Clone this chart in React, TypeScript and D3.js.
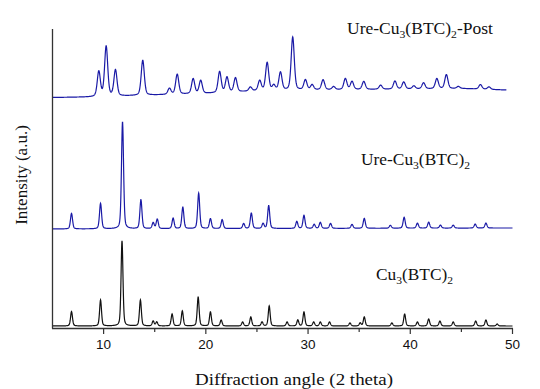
import React from "react";
import * as d3 from "d3";

// Peak lists: [2θ position, height (a.u.)]
const cuBTCPeaks: [number, number][] = [
  [6.86, 14.5], [9.7, 26], [11.8, 85], [13.6, 26], [14.85, 5], [15.2, 4], [16.7, 12],
  [17.7, 15], [19.25, 29], [20.45, 14], [21.5, 6], [23.6, 4], [24.4, 9], [25.5, 4],
  [26.2, 20], [27.95, 4], [29.0, 6], [29.6, 14], [30.55, 4], [31.2, 4], [32.1, 4],
  [34.1, 3], [35.1, 3], [35.5, 9], [38.2, 3], [39.45, 12], [40.7, 4], [41.8, 7],
  [42.9, 5], [44.2, 4], [46.4, 5], [47.4, 6], [48.5, 2],
];
const ureCuBTCPeaks: [number, number][] = [
  [6.86, 15.5], [9.7, 25.5], [11.85, 107], [13.65, 29], [14.85, 6], [15.25, 9.5],
  [16.8, 10.5], [17.75, 21.5], [19.3, 35.5], [20.45, 10], [21.6, 9], [23.7, 5],
  [24.45, 15.5], [25.6, 5], [26.15, 23], [28.9, 7], [29.6, 13], [30.6, 4], [31.2, 6],
  [32.2, 5], [34.3, 4], [35.5, 10], [38.05, 3], [39.4, 11], [40.7, 5], [41.8, 6],
  [42.95, 3], [44.2, 3], [46.35, 4], [47.4, 5],
];
const urePostPeaks: [number, number][] = [
  [9.53, 25], [10.25, 50], [11.16, 26], [13.83, 35], [16.44, 6], [17.2, 20],
  [18.76, 15], [19.5, 13], [21.35, 21], [22.07, 15], [22.9, 14], [24.36, 4],
  [25.27, 10], [26.0, 28], [26.65, 5], [27.3, 18], [28.5, 53], [29.74, 10],
  [30.4, 5], [31.47, 10], [32.5, 3], [33.65, 11], [34.3, 8], [35.45, 8], [37.1, 4],
  [38.5, 8], [39.36, 7], [40.35, 3], [41.3, 6], [42.6, 10], [43.53, 14], [44.7, 2],
  [46.86, 4.5], [47.7, 2.5],
];
// Background levels (2θ, a.u.) of each pattern
const cuBTCBackground: [number, number][] = [[5, 2], [50, 2]];
const ureCuBTCBackground: [number, number][] = [[5, 99], [50, 100]];
const urePostBackground: [number, number][] = [
  [5, 230.5], [9, 231], [12, 232], [15, 233], [20, 234.5], [25, 237], [30, 238],
  [35, 238.5], [40, 239], [45, 239.5], [49.4, 238],
];
const xTicks = [10, 20, 30, 40, 50];
const xMinorTicks = [15, 25, 35, 45];

function profile(peaks: [number, number][], bg: [number, number][], fwhm: number, end: number) {
  const bgScale = d3.scaleLinear().domain(bg.map((d) => d[0])).range(bg.map((d) => d[1])).clamp(true);
  const xs = d3.range(5, end + 1e-9, 0.02);
  return xs.map((x) => {
    let y = bgScale(x);
    for (const [c, h] of peaks) {
      const t = (x - c) / (fwhm / 2);
      const lor = 1 / (1 + t * t);
      const gau = Math.exp(-Math.LN2 * t * t);
      y += h * (0.35 * lor + 0.65 * gau);
    }
    return [x, y] as [number, number];
  });
}

export default function App() {
  const W = 540, H = 389;
  const x = d3.scaleLinear().domain([5, 50]).range([52.5, 512.5]);
  const y = d3.scaleLinear().domain([0, 300]).range([328, 28]);
  const line = d3.line<[number, number]>().x((d) => x(d[0])).y((d) => y(d[1]));
  const black = profile(cuBTCPeaks, cuBTCBackground, 0.22, 50);
  const mid = profile(ureCuBTCPeaks, ureCuBTCBackground, 0.24, 50);
  const top = profile(urePostPeaks, urePostBackground, 0.36, 49.4);
  const serif = "'Liberation Serif', 'Times New Roman', serif";
  const sans = "'Liberation Sans', Arial, sans-serif";
  const blue = "#1a1aa6";
  return (
    <svg width={W} height={H} style={{ position: "absolute", left: 0, top: 0, background: "#fff" }}>
      <path d={line(top) || ""} fill="none" stroke={blue} strokeWidth={1.2} />
      <path d={line(mid) || ""} fill="none" stroke={blue} strokeWidth={1.2} />
      <path d={line(black) || ""} fill="none" stroke="#111" strokeWidth={1.2} />
      {/* axes */}
      <line x1={52.5} x2={52.5} y1={29} y2={328.5} stroke="#333" strokeWidth={1.3} />
      <line x1={52} x2={513} y1={328.5} y2={328.5} stroke="#333" strokeWidth={1.3} />
      {xTicks.map((t) => (
        <g key={t}>
          <line x1={x(t)} x2={x(t)} y1={328.5} y2={334} stroke="#333" strokeWidth={1.2} />
          <text x={x(t)} y={349} textAnchor="middle" fontFamily={sans} fontSize={13.5} fill="#111">{t}</text>
        </g>
      ))}
      {xMinorTicks.map((t) => (
        <line key={t} x1={x(t)} x2={x(t)} y1={328.5} y2={332} stroke="#333" strokeWidth={1.2} />
      ))}
      <text x={195} y={385} textLength={198} lengthAdjust="spacingAndGlyphs" fontFamily={serif} fontSize={17} fill="#111">Diffraction angle (2 theta)</text>
      <text transform="translate(27,175) rotate(-90)" textAnchor="middle" fontFamily={serif} fontSize={17} fill="#111">Intensity (a.u.)</text>
      {/* labels */}
      <text x={347} y={34} textLength={146} lengthAdjust="spacingAndGlyphs" fontFamily={serif} fontSize={16.5} fill="#111">
        Ure-Cu<tspan dy={4} fontSize={11}>3</tspan><tspan dy={-4}>(BTC)</tspan><tspan dy={4} fontSize={11}>2</tspan><tspan dy={-4}>-Post</tspan>
      </text>
      <text x={361} y={165} textLength={109} lengthAdjust="spacingAndGlyphs" fontFamily={serif} fontSize={16.5} fill="#111">
        Ure-Cu<tspan dy={4} fontSize={11}>3</tspan><tspan dy={-4}>(BTC)</tspan><tspan dy={4} fontSize={11}>2</tspan>
      </text>
      <text x={376} y={280} textLength={77} lengthAdjust="spacingAndGlyphs" fontFamily={serif} fontSize={16.5} fill="#111">
        Cu<tspan dy={4} fontSize={11}>3</tspan><tspan dy={-4}>(BTC)</tspan><tspan dy={4} fontSize={11}>2</tspan>
      </text>
    </svg>
  );
}
